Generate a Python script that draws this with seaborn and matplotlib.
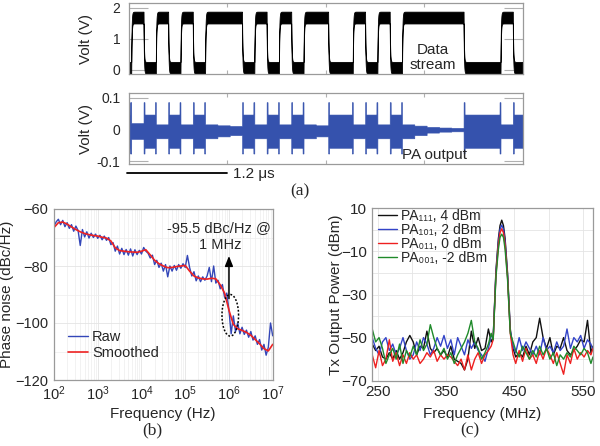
import numpy as np
import pandas as pd
import matplotlib
matplotlib.use("Agg")
import matplotlib.pyplot as plt
import matplotlib.transforms as mtransforms
import seaborn as sns
from matplotlib.ticker import MultipleLocator, FixedLocator, LogLocator, NullFormatter, LogFormatterMathtext

# ---------------- data ----------------
# (a) digital data stream, one value per bit
bit_period_us = 0.15
first_bit_start_us = -0.118
data_bits = [0, 1, 0, 1, 0, 1, 0, 1, 1, 1, 0, 1, 0, 1, 0, 1, 1, 0, 0, 1, 0, 1, 0,
             1, 1, 1, 1, 1, 0, 0, 0, 1, 0]
data_low_v = 0.07
data_high_v = 1.69
data_band_v = 0.19
# (a) PA output envelope per bit (V)
pa_upper = [0.045, 0.020, 0.047, 0.016, 0.047, 0.016, 0.047, 0.016, 0.013, 0.011,
            0.047, 0.016, 0.047, 0.016, 0.047, 0.016, 0.013, 0.047, 0.047, 0.016,
            0.047, 0.016, 0.047, 0.016, 0.012, 0.008, 0.006, 0.005, 0.047, 0.047,
            0.047, 0.016, 0.047]
pa_lower = [-0.058, -0.030, -0.058, -0.028, -0.058, -0.028, -0.058, -0.028, -0.022, -0.018,
            -0.058, -0.028, -0.058, -0.028, -0.058, -0.028, -0.022, -0.058, -0.058, -0.028,
            -0.058, -0.028, -0.058, -0.028, -0.018, -0.010, -0.007, -0.006, -0.058, -0.058,
            -0.058, -0.028, -0.058]
pa_spike_upper = 0.086
pa_spike_lower = -0.076

# (b) phase noise
raw_exp = [round(2.0 + 0.05 * i, 2) for i in range(101)]
raw_pn = [-66.0, -64.5, -63.6, -65.5, -64.0, -66.2, -64.8, -66.8, -65.5, -67.8,
          -66.0, -67.5, -72.8, -67.2, -69.8, -68.0, -70.2, -68.5, -70.0, -68.8,
          -70.3, -69.2, -70.8, -69.5, -71.0, -70.0, -72.5, -71.8, -74.8, -73.0,
          -75.8, -73.8, -76.0, -74.2, -76.2, -74.0, -76.5, -74.3, -76.0, -74.5,
          -75.8, -73.5, -74.8, -75.5, -77.2, -76.2, -79.5, -78.0, -80.5, -79.0,
          -81.8, -79.5, -83.8, -80.0, -81.8, -79.8, -81.5, -79.5, -80.8, -79.2,
          -80.5, -76.3, -80.5, -83.5, -82.0, -85.2, -83.5, -85.5, -83.8, -85.0,
          -83.5, -80.5, -85.5, -80.0, -86.0, -85.0, -88.0, -86.5, -91.0, -89.5,
          -95.5, -103.8, -97.5, -103.0, -100.0, -103.8, -101.5, -104.0, -102.5, -105.0,
          -103.0, -106.0, -104.5, -107.5, -105.8, -109.5, -107.5, -111.3, -108.5, -100.0,
          -104.5]
smooth_exp = [round(2.0 + 0.1 * i, 1) for i in range(51)]
smooth_pn = [-66.5, -64.8, -64.6, -65.3, -66.3, -67.2, -68.0, -68.6, -69.0, -69.3,
             -69.5, -69.9, -70.2, -71.2, -73.6, -74.6, -74.8, -75.0, -75.1, -75.2,
             -74.8, -74.3, -76.1, -78.0, -79.2, -80.0, -80.6, -80.5, -80.2, -80.0,
             -79.8, -81.8, -83.5, -84.2, -84.5, -84.6, -84.3, -84.5, -86.6, -89.5,
             -95.5, -100.5, -102.0, -102.6, -103.3, -104.3, -105.8, -107.3, -109.0, -109.8,
             -107.5]

# (c) Tx spectrum
spec_freq = [242, 247, 252, 257, 262, 267, 272, 277, 282, 287, 292, 297, 302, 307, 312,
             317, 322, 327, 332, 337, 342, 347, 352, 357, 362, 367, 372, 377, 382, 387,
             392, 397, 402, 407, 412, 416,
             419, 423, 426.6, 429, 431.5, 434, 436.4, 440, 444,
             448, 452, 457, 462, 467, 472, 477, 482, 487, 492, 497, 502, 507, 512, 517,
             522, 527, 532, 537, 542, 547, 552, 557, 562, 565]
p_111 = [-53, -56, -54, -59, -60, -57, -60, -56, -60, -57, -52, -49, -52, -58, -54,
         -55, -47, -55, -57, -55, -58, -56, -59, -54, -60, -61, -62, -65, -60, -47,
         -55, -50, -56, -55, -46, -52,
         -50, -19, -4, 2, 4.5, 2, -4, -20, -46,
         -55, -59, -57, -59, -54, -58, -52, -50, -41, -50, -55, -50, -58, -54, -55,
         -50, -56, -58, -56, -54, -51, -52, -42, -57, -54]
p_101 = [-50, -55, -58, -52, -50, -56, -53, -58, -55, -50, -56, -60, -58, -52, -56,
         -50, -53, -58, -55, -50, -54, -49, -55, -51, -58, -50, -54, -58, -51, -55,
         -52, -56, -58, -61, -55, -49,
         -50, -20, -5.5, 0.3, 2.2, 0.3, -5.5, -21, -47,
         -54, -57, -50, -56, -52, -55, -58, -54, -58, -50, -56, -54, -57, -52, -56,
         -54, -46, -55, -50, -52, -49, -55, -51, -53, -56]
p_011 = [-58, -64, -56, -63, -60, -51, -61, -57, -63, -58, -62, -57, -60, -58, -62,
         -60, -57, -59, -56, -61, -58, -60, -58, -59, -61, -63, -60, -65, -58, -65,
         -60, -57, -62, -58, -56, -54,
         -51, -21, -7, -1.3, 0.5, -1.3, -7, -22, -48,
         -58, -62, -56, -61, -55, -60, -58, -62, -56, -60, -55, -58, -62, -57, -62,
         -67, -58, -62, -55, -60, -57, -59, -56, -58, -55]
p_001 = [-46, -52, -50, -55, -62, -58, -55, -60, -53, -62, -56, -59, -54, -58, -51,
         -56, -53, -44, -50, -55, -58, -55, -60, -57, -62, -58, -55, -52, -48, -42,
         -52, -55, -60, -57, -53, -48,
         -51, -22, -9, -3.5, -2.0, -3.5, -9, -23, -48,
         -52, -56, -59, -54, -57, -60, -56, -59, -54, -58, -55, -60, -57, -63, -58,
         -60, -57, -59, -54, -56, -58, -55, -57, -62, -59]
spec_labels = ["PA\u2081\u2081\u2081, 4 dBm", "PA\u2081\u2080\u2081, 2 dBm",
               "PA\u2080\u2081\u2081, 0 dBm", "PA\u2080\u2080\u2081, -2 dBm"]
spec_colors = ["#111111", "#3344c8", "#ee2020", "#1f8a2a"]
spec_yticks = [10, -10, -30, -50, -70]
spec_xticks = [250, 350, 450, 550]

# ---------------- style ----------------
sns.set_theme(style="white")
plt.rcParams["font.family"] = ["Liberation Sans", "DejaVu Sans"]
plt.rcParams["mathtext.fontset"] = "custom"
plt.rcParams["mathtext.rm"] = "Liberation Sans"
plt.rcParams["mathtext.it"] = "Liberation Sans:italic"
plt.rcParams["mathtext.bf"] = "Liberation Sans:bold"

W, H = 600, 446
fig = plt.figure(figsize=(6.0, 4.46), dpi=100)


def add_axes_px(l, t, r, b):
    return fig.add_axes([l / W, 1 - b / H, (r - l) / W, (b - t) / H])


SPINE = "#9a9a9a"
GRID = "#e4e4e4"
GRID_MINOR = "#ededed"


def style_box(ax):
    for s in ax.spines.values():
        s.set_visible(True)
        s.set_color(SPINE)
        s.set_linewidth(0.9)


# ---------------- (a) ----------------
t = np.linspace(0, 4.8, 8000)
k = np.clip(((t - first_bit_start_us) / bit_period_us).astype(int), 0, len(data_bits) - 1)
lvl = np.array(data_bits, dtype=float)[k]
trace = np.empty_like(lvl)
trace[0] = lvl[0]
alpha = 0.12
for i in range(1, len(lvl)):
    trace[i] = trace[i - 1] + alpha * (lvl[i] - trace[i - 1])
trace_v = data_low_v + (data_high_v - data_low_v) * trace

ax1 = add_axes_px(128.6, 3.3, 522.5, 74)
ax1.fill_between(t, trace_v - data_band_v, trace_v + data_band_v, color="black", lw=0.6)
ax1.set_xlim(0, 4.8)
ax1.set_ylim(-0.13, 2.15)
ax1.set_yticks([0, 1, 2])
ax1.set_xticks([1.2, 2.4, 3.6])
ax1.set_xticklabels([])
ax1.tick_params(axis="y", direction="in", length=14, width=0.8, color="#b0b0b0",
                left=True, right=True, labelsize=10, pad=6)
ax1.tick_params(axis="x", direction="in", length=3, width=0.8, color="#b0b0b0",
                top=True, bottom=True)
style_box(ax1)
ax1.set_ylabel("Volt (V)", fontsize=11)
ax1.yaxis.set_label_coords(-0.09, 0.5)
ax1.text(0.772, (74 - 50) / 70.7, "Data", transform=ax1.transAxes, ha="center", va="center", fontsize=11)
ax1.text(0.772, (74 - 65) / 70.7, "stream", transform=ax1.transAxes, ha="center", va="center", fontsize=11)

# PA output envelope
up = np.array(pa_upper)[k]
lo = np.array(pa_lower)[k]
on = np.array(pa_upper) > 0.03
edges = []
for j in range(1, len(on)):
    if on[j] != on[j - 1]:
        edges.append((first_bit_start_us + j * bit_period_us, on[j]))
sw = 0.012
for te, start in edges:
    if start:
        m = (t >= te) & (t <= te + sw)
    else:
        m = (t >= te - sw) & (t <= te)
    up[m] = pa_spike_upper
    lo[m] = pa_spike_lower
m0 = t <= sw
up[m0] = pa_spike_upper
lo[m0] = pa_spike_lower

ax2 = add_axes_px(128.6, 93.3, 522.5, 164.3)
ax2.fill_between(t, lo, up, color="#3552ad", lw=0.4)
ax2.set_xlim(0, 4.8)
ax2.set_ylim(-0.11, 0.114)
ax2.set_yticks([-0.1, 0, 0.1])
ax2.set_yticklabels(["-0.1", "0", "0.1"])
ax2.set_xticks([1.2, 2.4, 3.6])
ax2.set_xticklabels([])
ax2.tick_params(axis="y", direction="in", length=14, width=0.8, color="#b0b0b0",
                left=True, right=True, labelsize=10, pad=6)
ax2.tick_params(axis="x", direction="in", length=3, width=0.8, color="#b0b0b0",
                top=True, bottom=True)
style_box(ax2)
ax2.set_ylabel("Volt (V)", fontsize=11)
ax2.yaxis.set_label_coords(-0.09, 0.5)
ax2.text((434 - 128.6) / 393.9, (164.3 - 155) / 71, "PA output", transform=ax2.transAxes,
         ha="center", va="center", fontsize=11)
bt = mtransforms.blended_transform_factory(ax2.transData, ax2.transAxes)
ax2.plot([-0.023, 1.2], [-0.127, -0.127], transform=bt, color="black", lw=1.3, clip_on=False)
ax2.text(1.27, -0.135, "1.2 \u03bcs", transform=bt, ha="left", va="center", fontsize=11)

fig.text(300 / W, 1 - 191 / H, "(a)", ha="center", va="center", fontsize=12.5,
         family=["Liberation Serif", "DejaVu Serif"])

# ---------------- (b) ----------------
axb = add_axes_px(54, 209, 272.7, 380)
df_raw = pd.DataFrame({"f": [10 ** e for e in raw_exp], "pn": raw_pn})
df_sm = pd.DataFrame({"f": [10 ** e for e in smooth_exp], "pn": smooth_pn})
sns.lineplot(data=df_raw, x="f", y="pn", ax=axb, color="#3346b8", lw=1.0, label="Raw",
             estimator=None, sort=False)
sns.lineplot(data=df_sm, x="f", y="pn", ax=axb, color="#ee2222", lw=1.2, label="Smoothed",
             estimator=None, sort=False)
axb.set_xscale("log")
axb.set_xlim(1e2, 1e7)
axb.set_ylim(-120, -60)
axb.xaxis.set_major_locator(LogLocator(base=10, numticks=10))
axb.xaxis.set_major_formatter(LogFormatterMathtext())
axb.xaxis.set_minor_locator(LogLocator(base=10, subs=np.arange(2, 10), numticks=20))
axb.xaxis.set_minor_formatter(NullFormatter())
axb.yaxis.set_major_locator(MultipleLocator(20))
axb.yaxis.set_minor_locator(MultipleLocator(10))
axb.grid(True, which="major", color=GRID, lw=0.6)
axb.grid(True, which="minor", color=GRID_MINOR, lw=0.5)
axb.set_axisbelow(True)
axb.tick_params(which="both", direction="in", length=2, color="#b0b0b0", labelsize=10.5)
axb.tick_params(axis="y", pad=4)
axb.tick_params(axis="x", pad=3)
style_box(axb)
axb.set_xlabel("Frequency (Hz)", fontsize=11)
axb.set_ylabel("Phase noise (dBc/Hz)", fontsize=11)
axb.xaxis.set_label_coords(0.496, -0.16)
axb.yaxis.set_label_coords(-0.185, 0.5)
th = np.linspace(0, 2 * np.pi, 200)
axb.plot(10 ** (6.03 + 0.19 * np.cos(th)), -97.3 + 7.3 * np.sin(th), ls=(0, (1.2, 1.2)),
         color="black", lw=1.1)
axb.annotate("", xy=(1e6, -75.5), xytext=(1e6, -92.4),
             arrowprops=dict(arrowstyle="-|>,head_length=0.5,head_width=0.2", color="black", lw=1.1))
axb.text(10 ** 5.78, -66.8, "-95.5 dBc/Hz @", ha="center", va="center", fontsize=10.5)
axb.text(10 ** 5.8, -72.6, "1 MHz", ha="center", va="center", fontsize=10.5)
axb.legend(loc="upper left", bbox_to_anchor=((68 - 54) / 218.7, (380 - 330) / 171), frameon=False,
           fontsize=10.5, handlelength=1.35, handletextpad=0.3, labelspacing=0.12,
           borderpad=0, borderaxespad=0)
fig.text(152 / W, 1 - 430 / H, "(b)", ha="center", va="center", fontsize=12.5,
         family=["Liberation Serif", "DejaVu Serif"])

# ---------------- (c) ----------------
axc = add_axes_px(372.3, 208.3, 592.7, 380.7)
for vals, lab, col in zip([p_111, p_101, p_011, p_001], spec_labels, spec_colors):
    d = pd.DataFrame({"f": spec_freq, "p": vals})
    sns.lineplot(data=d, x="f", y="p", ax=axc, color=col, lw=1.0, label=lab,
                 estimator=None, sort=False)
axc.set_xlim(242.1, 564.6)
axc.set_ylim(-70, 10)
axc.xaxis.set_major_locator(FixedLocator(spec_xticks))
axc.xaxis.set_minor_locator(FixedLocator([300, 400, 500]))
axc.yaxis.set_major_locator(FixedLocator(spec_yticks))
axc.yaxis.set_minor_locator(FixedLocator([0, -20, -40, -60]))
axc.grid(True, which="both", color=GRID, lw=0.6)
axc.set_axisbelow(True)
axc.tick_params(which="both", direction="in", length=2, color="#b0b0b0", labelsize=11)
axc.tick_params(axis="y", pad=4)
axc.tick_params(axis="x", pad=3)
style_box(axc)
axc.set_xlabel("Frequency (MHz)", fontsize=11)
axc.set_ylabel("Tx Output Power (dBm)", fontsize=11)
axc.xaxis.set_label_coords(0.498, -0.155)
axc.yaxis.set_label_coords(-0.133, 0.5)
axc.legend(loc="upper left", bbox_to_anchor=((378 - 372.3) / 220.4, (380.7 - 209) / 172.4),
           frameon=False, fontsize=10, handlelength=1.4, handletextpad=0.25,
           labelspacing=0.0, borderpad=0, borderaxespad=0)
fig.text(470 / W, 1 - 430 / H, "(c)", ha="center", va="center", fontsize=12.5,
         family=["Liberation Serif", "DejaVu Serif"])

fig.savefig("out.png", dpi=100)
